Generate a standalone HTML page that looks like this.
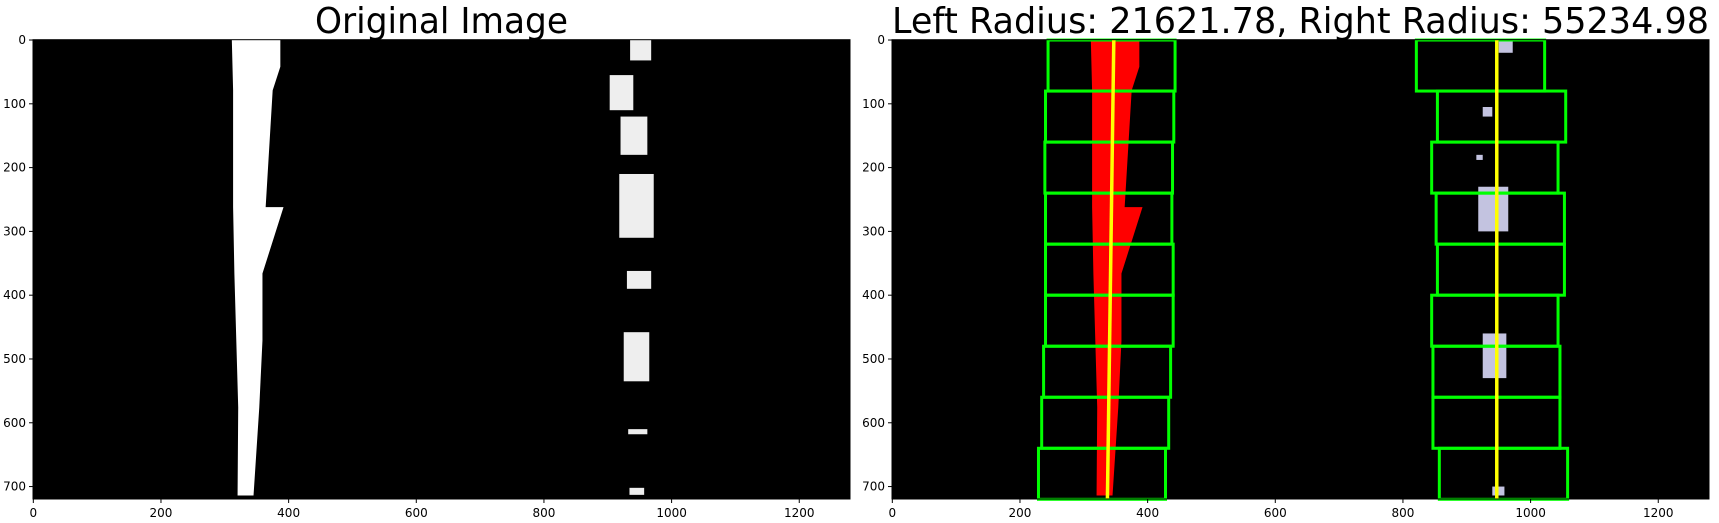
<!DOCTYPE html>
<html><head><meta charset="utf-8"><style>
html,body{margin:0;padding:0;background:#fff;}
body{width:1719px;height:523px;overflow:hidden;position:relative;}
svg{position:absolute;left:0;top:0;}
text{font-family:"DejaVu Sans","Liberation Sans",sans-serif;fill:#000;}
</style></head><body>
<svg id="root" width="1719" height="523"></svg>
<script>
// ---- data ----
const xTicks = [0,200,400,600,800,1000,1200];
const yTicks = [0,100,200,300,400,500,600,700];
const imgW = 1280, imgH = 720;
// left lane outline polygon (image coords): [x,y]
const laneLeftEdge = [[311,0],[313,79],[313,262],[315,366],[318,471],[321,576],[320,714]];
const laneRightEdge = [[387,0],[387,42],[375,79],[364,262],[392,262],[359,366],[359,471],[354,576],[345,714]];
// right lane segments [x0,y0,x1,y1]
const rightSegs = [[935,0,968,32],[903,55,940,110],[920,120,962,180],[918,210,972,310],[930,362,968,390],[925,458,965,535],[932,610,962,618],[934,702,957,713]];
// lavender (right detected) segments
const rightPix = [[950,0,972,20],[925,105,940,120],[915,180,925,188],[918,230,965,300],[925,460,962,530],[940,700,959,714]];
// sliding windows [x0,x1] per row of 80px
const winLeft = [[244,443],[240,441],[239,439],[240,438],[240,440],[240,440],[237,436],[234,433],[229,428]];
const winRight = [[821,1022],[854,1055],[845,1043],[852,1053],[854,1053],[845,1043],[847,1046],[847,1046],[857,1058]];
const fitLeft = [347,337];   // x at y=0 and y=720
const fitRight = [947,947];
const titles = ["Original Image","Left Radius: 21621.78, Right Radius: 55234.98"];
const titleLens = [253,817];

const NS = "http://www.w3.org/2000/svg";
const root = document.getElementById('root');
const axW = 817, axH = 459.3, axTop = 39.7;
const axLefts = [33, 892];
function mk(tag, attrs, parent){const e=document.createElementNS(NS,tag);for(const k in attrs)e.setAttribute(k,attrs[k]);(parent||root).appendChild(e);return e;}

axLefts.forEach((L,ai)=>{
  const sx = v => L + (v+0.5)*axW/imgW;
  const sy = v => axTop + (v+0.5)*axH/imgH;
  const g = mk('g',{});
  
  
  const bg = mk('rect',{x:L,y:axTop,width:axW,height:axH,fill:'#000'},g);
  
  
  const laneCol = ai===0?'#fff':'#ff0000';
  const pts = laneLeftEdge.map(p=>sx(p[0])+','+sy(p[1])).concat(laneRightEdge.slice().reverse().map(p=>sx(p[0])+','+sy(p[1]))).join(' ');
  const lane = mk('polygon',{points:pts,fill:laneCol},g);
  
  
  const segs = ai===0?rightSegs:rightPix;
  segs.forEach(s=>{
    const r = mk('rect',{x:sx(s[0]),y:sy(s[1]),width:sx(s[2])-sx(s[0]),height:sy(s[3])-sy(s[1]),fill:ai===0?'#eee':'#c3c3e0'},g);
    
    
  });
  if(ai===1){
    [winLeft,winRight].forEach((wins,wi)=>{
      wins.forEach((w,i)=>{
        const r = mk('rect',{x:sx(w[0]),y:sy(i*80),width:sx(w[1])-sx(w[0]),height:80*axH/imgH,fill:'none',stroke:'#00ff00','stroke-width':3},g);
        
        
      });
    });
    [fitLeft,fitRight].forEach((f,fi)=>{
      const l = mk('line',{x1:sx(f[0]),y1:sy(0),x2:sx(f[1]),y2:sy(719),stroke:'#ffff00','stroke-width':3.5},g);
      
      
    });
  }
  const fr = mk('rect',{x:L,y:axTop,width:axW,height:axH,fill:'none',stroke:'#000','stroke-width':1},g);
  
  
  xTicks.forEach(t=>{
    const x = sx(t);
    mk('line',{x1:x,y1:axTop+axH,x2:x,y2:axTop+axH+4,stroke:'#000','stroke-width':1},g);
    const tx = mk('text',{x:x,y:axTop+axH+18,'font-size':12,'text-anchor':'middle'},g);
    tx.textContent=t;
    
    
  });
  yTicks.forEach(t=>{
    const y = sy(t);
    mk('line',{x1:L-4,y1:y,x2:L,y2:y,stroke:'#000','stroke-width':1},g);
    const tx = mk('text',{x:L-7,y:y+4,'font-size':12,'text-anchor':'end'},g);
    tx.textContent=t;
    
    
  });
  const tt = mk('text',{x:L+axW/2,y:33,'font-size':36,'text-anchor':'middle',textLength:titleLens[ai],lengthAdjust:'spacingAndGlyphs'},g);
  tt.textContent = titles[ai];
  
  
});
</script>
</body></html>
